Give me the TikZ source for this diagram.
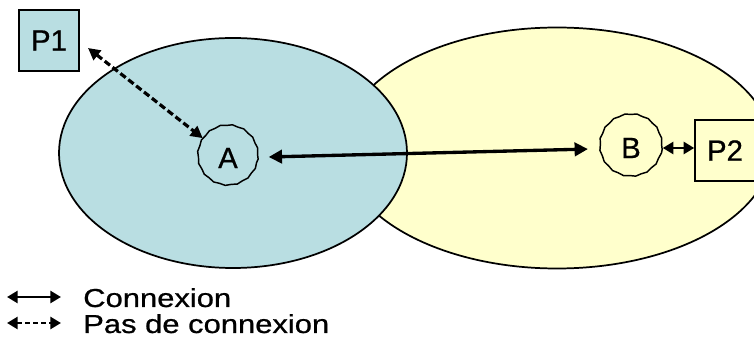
\documentclass[tikz,border=0pt]{standalone}
\usepackage{fontspec}
\setmainfont{Liberation Sans}[FakeBold=0.7]
\newfontfamily\heavyfont{Liberation Sans}[FakeBold=0.7]
\usetikzlibrary{arrows.meta,shapes.geometric,decorations.pathmorphing}
\definecolor{netblue}{RGB}{185,222,226}
\definecolor{netyellow}{RGB}{255,255,204}
\tikzset{
  net/.style={draw=black, line width=1.3pt, ellipse, inner sep=0pt},
  site/.style={draw=black, line width=1.1pt, circle, inner sep=0pt, minimum size=#1,
    decorate, decoration={snake, amplitude=0.35pt, segment length=9pt}, font=\heavyfont\fontsize{22}{24}\selectfont},
  peer/.style={draw=black, line width=1.1pt, rectangle, inner sep=0pt, minimum width=45pt, minimum height=45.75pt, font=\heavyfont\fontsize{22}{24}\selectfont},
  conn/.style={line width=2.5pt, {Triangle[length=10pt,width=10pt]}-{Triangle[length=10pt,width=10pt]}},
  noconn/.style={line width=2.4pt, dash pattern=on 5pt off 2.5pt, {Triangle[length=9pt,width=9pt]}-{Triangle[length=9pt,width=9pt]}},
  legarrow/.style={line width=2.1pt, {Triangle[length=8pt,width=9pt]}-{Triangle[length=8pt,width=9pt]}},
  legtext/.style={anchor=base west, inner sep=0pt, font=\heavyfont\fontsize{19.5}{22}\selectfont}
}
\begin{document}
\begin{tikzpicture}[x=0.75pt,y=-0.75pt]
\useasboundingbox (0,0) rectangle (754,338);
% networks
\node[net, fill=netyellow, minimum width=322.5pt, minimum height=180.75pt] (netB) at (557,148) {};
\node[net, fill=netblue, minimum width=261pt, minimum height=172.5pt] (netA) at (233,153) {};
% sites
\node[site=45pt] (a) at (228,158) {A};
\node[site=46.5pt] (b) at (631,148) {B};
% peers
\node[peer, fill=netblue] (p1) at (49,40.5) {P1};
\node[peer, fill=netyellow] (p2) at (725,150.5) {P2};
% connectors
\coordinate (p1end) at (88,48);
\draw[noconn, shorten >=1pt] (p1end) -- (a);
\draw[conn, shorten <=7.5pt, shorten >=8.5pt] (a) -- (b);
\draw[conn, line width=2.2pt, {Triangle[length=8pt,width=9pt]}-{Triangle[length=8pt,width=9pt]}] (b.east) -- (b.east -| p2.west);
% legend
\coordinate (l1a) at (7,297); \coordinate (l1b) at (61,297);
\coordinate (l2a) at (7,323); \coordinate (l2b) at (61,323);
\draw[legarrow] (l1a) -- (l1b);
\draw[legarrow, dash pattern=on 4pt off 2pt] (l2a) -- (l2b);
\node[legtext] (t1) at (83,307) {\scalebox{1.19}[1]{Connexion}};
\node[legtext] (t2) at (83,333) {\scalebox{1.19}[1]{Pas de connexion}};
\end{tikzpicture}
\end{document}
